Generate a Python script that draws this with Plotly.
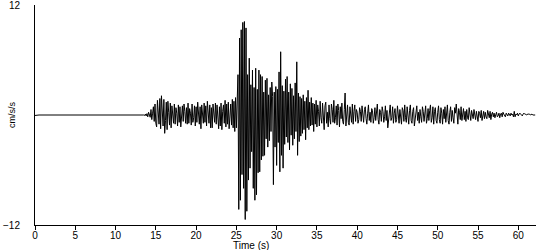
import plotly.graph_objects as go

# Pre-event quiet record (time s, acceleration cm/s/s)
quiet_t = [0.0, 0.5, 13.5]
quiet_acc = [-0.05, 0.0, 0.0]

# Main record, sampled every DT seconds starting at T0
T0 = 13.5
DT = 0.1
acc_13 = [0.05, -0.05, 0.1, -0.1, 0.15]
acc_14_19 = [
    -0.2, 0.3, 0.1, -0.25, 0.6, -0.5, 0.2, 0.9, -0.7, 1.2,
    -0.9, -1.3, 1.6, 0.4, -1.0, 1.8, -1.5, 2.1, 0.5, -1.2,
    1.7, -2.0, -0.6, 1.4, -1.6, 1.5, 0.3, -1.1, 1.3, -1.4,
    1.0, -0.4, -0.9, 1.2, -1.0, 0.8, 0.2, -1.2, 1.1, -0.8,
    0.9, -1.3, -0.3, 1.0, -0.7, 1.2, 0.4, -0.9, 0.8, -1.0,
    1.3, -0.9, 0.7, 0.2, -1.1, 1.2, -0.8, -0.3, 1.0, -1.2,
]
acc_20_24 = [
    0.9, -0.8, 1.4, 0.3, -1.0, 0.9, -1.5, 1.1, -0.2, -0.9,
    1.3, -0.8, 1.0, -1.2, 1.5, -0.4, -0.9, 1.1, -1.4, 0.8,
    -1.4, 1.2, 0.3, -0.8, 1.3, -1.0, 1.1, -0.3, -1.5, 0.9,
    -1.2, 1.3, -1.6, 0.4, 1.1, -0.9, 1.6, -1.3, 1.2, -1.0,
    1.4, -1.5, 0.3, 1.2, -1.1, 1.7, -1.4, 1.5, -1.8, 1.9,
]
acc_25_29 = [
    -1.4, 1.8, 4.4, -10.3, 8.4, -9.3, 9.3, -6.5, 10.1, -8.0,
    10.2, -11.4, 9.5, -10.5, 4.4, -7.1, 6.2, -5.8, 3.3, -4.0,
    4.9, -8.0, 3.0, -9.3, 5.1, -8.7, 2.8, -6.3, 4.9, -6.2,
    4.4, -4.9, 4.2, -4.5, 2.5, -4.4, 3.8, -2.6, 4.0, -3.5,
    2.2, -2.8, 3.0, -1.8, 3.6, 2.0, -7.6, 2.5, -3.5, 3.1,
]
acc_30_34 = [
    -5.5, 2.8, -3.0, 4.7, -6.2, 6.9, -4.4, 3.2, -5.8, 2.6,
    -3.2, 3.9, -2.4, 4.2, -3.0, 2.5, -3.8, 3.4, -2.2, 2.9,
    -3.3, 2.1, -2.6, 3.5, -1.8, 5.8, -4.4, 2.4, -2.9, 2.0,
    -2.3, 1.8, -2.0, 2.2, -1.6, 1.5, -2.7, 1.9, -1.4, 2.7,
    -1.6, 1.4, -1.2, 1.9, -1.1, 1.3, -1.8, 1.2, -1.0, 1.6,
]
acc_35_39 = [
    -1.3, 1.1, 0.4, -1.2, 1.5, -0.3, -0.9, 1.3, -1.1, -1.6,
    1.0, 1.4, -0.9, 0.3, -1.3, 1.1, -0.4, -1.0, 1.2, 0.6,
    -0.8, 1.6, -0.9, -0.3, 1.0, -1.1, 1.2, 0.5, -1.3, 0.9,
    -0.4, 1.3, -0.7, -1.0, 0.6, 2.4, -1.2, 0.3, 1.1, -0.8,
    -1.1, 0.9, 0.2, -0.8, 1.2, -1.0, 0.4, 1.1, -0.7, 0.6,
]
acc_40_49 = [
    0.3, -0.9, -0.5, 0.8, 0.4, -0.7, 1.0, -0.2, -0.8, 0.6,
    0.9, -0.4, -1.0, 0.2, 1.1, -0.6, 0.3, -0.8, 0.7, 0.5,
    -0.9, -0.3, 0.8, -0.6, 0.2, 1.2, -0.5, -1.0, 0.6, 0.3,
    -0.7, 0.9, 0.4, -0.8, -0.2, 1.0, -0.6, 0.5, -1.4, -0.4,
    0.8, 1.1, -0.6, -0.3, 0.9, -0.9, 0.2, 0.7, -0.8, -0.5,
    1.0, 0.3, -0.9, 0.6, -0.4, -1.0, 0.8, 0.5, -0.7, 1.1,
    -0.3, -0.8, 0.9, 0.2, -1.0, 0.5, 1.1, -0.6, -0.9, 0.4,
    0.8, -1.2, -0.4, 0.7, 1.0, -0.6, 0.3, -0.9, 0.6, -0.2,
    -0.8, 0.9, 0.4, -0.7, 0.2, 1.0, -0.9, -0.4, 0.7, -0.6,
    0.5, 1.1, -0.8, -0.3, 0.9, -1.0, 0.4, 0.8, -0.6, -0.9,
]
acc_50_59 = [
    0.3, 1.0, -0.5, -0.9, 0.8, 0.2, -1.0, 0.6, -0.4, 0.9,
    -0.8, 0.4, 1.1, -0.6, -1.0, 0.3, 0.9, -0.7, 0.5, -0.3,
    -0.9, 0.8, 0.2, 1.2, -0.6, -1.0, 0.7, 0.3, -0.5, 0.9,
    -0.6, 0.2, 0.7, -0.5, 0.4, -0.7, 0.6, -0.3, -0.5, 0.8,
    0.3, -0.6, 0.5, -0.2, -0.4, 0.6, 0.2, -0.5, 0.4, -0.3,
    -0.7, 0.4, 0.2, -0.3, 0.5, -0.6, 0.1, 0.4, -0.4, 0.3,
    -0.2, -0.4, 0.5, 0.2, -0.3, 0.4, -0.5, 0.1, 0.3, -0.2,
    0.2, -0.3, 0.1, 0.3, -0.2, -0.1, 0.2, -0.3, 0.1, 0.2,
    -0.2, 0.3, 0.1, -0.1, -0.2, 0.2, 0.0, -0.1, 0.2, 0.1,
    -0.1, 0.2, 0.0, 0.1, -0.2, 0.4, -0.2, 0.1, 0.0, 0.2,
]
acc_60_62 = [
    -0.1, 0.1, 0.2, 0.1, 0.0, -0.1, 0.1, 0.2, 0.1, 0.1,
    0.0, 0.1, 0.1, 0.1, 0.1, 0.0, 0.1, 0.1, 0.0, 0.0,
    0.0, 0.0,
]

x_ticks = [0, 5, 10, 15, 20, 25, 30, 35, 40, 45, 50, 55, 60]
y_ticks = [-12, 12]
x_range = [0, 62.2]
y_range = [-12, 12]

main_acc = acc_13 + acc_14_19 + acc_20_24 + acc_25_29 + acc_30_34 + acc_35_39 + acc_40_49 + acc_50_59 + acc_60_62
main_t = [T0 + i * DT for i in range(len(main_acc))]

t = quiet_t + main_t[1:]
acc = quiet_acc + main_acc[1:]

FONT = "Liberation Sans, Arial, sans-serif"

fig = go.Figure()
fig.add_trace(go.Scatter(x=t, y=acc, mode="lines",
                         line=dict(color="black", width=1),
                         hoverinfo="skip", showlegend=False))

fig.update_layout(
    width=550, height=250,
    margin=dict(l=35, r=14, t=5, b=25, autoexpand=False),
    paper_bgcolor="white", plot_bgcolor="white",
    font=dict(family=FONT, size=10, color="black"),
    xaxis=dict(range=x_range, tickvals=x_ticks, ticks="outside", ticklen=4,
               tickcolor="black", showline=True, linecolor="black", linewidth=1,
               showgrid=False, zeroline=False, tickfont=dict(size=10),
               ticklabelstandoff=-3, automargin=False),
    yaxis=dict(range=y_range, tickvals=y_ticks, ticks="", showline=True,
               linecolor="black", linewidth=1, showgrid=False, zeroline=False,
               tickfont=dict(size=10), ticklabelstandoff=12,
               ticklabeloverflow="allow", automargin=False),
    yaxis2=dict(range=y_range, overlaying="y", tickvals=[-12], ticks="outside",
                ticklen=5, tickcolor="black", showticklabels=False,
                showgrid=False, zeroline=False, showline=False, automargin=False),
    annotations=[
        dict(text="Time (s)", xref="paper", yref="paper", x=0.431, y=0,
             yshift=-20, xanchor="center", yanchor="middle", showarrow=False,
             font=dict(size=10)),
        dict(text="cm/s/s", xref="paper", yref="paper", x=0, y=0.5,
             xshift=-23, xanchor="center", yanchor="middle", textangle=-90,
             showarrow=False, font=dict(size=9)),
    ],
)

fig.write_html("out.html")
